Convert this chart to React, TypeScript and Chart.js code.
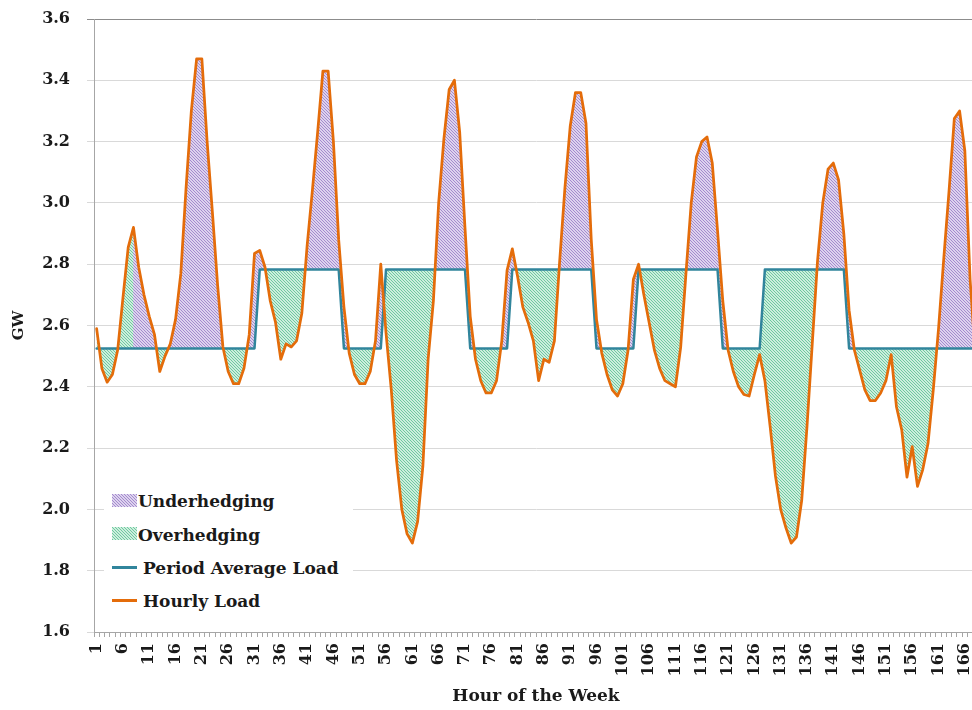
import React, { useEffect, useMemo, useRef } from 'react';
import { Chart, registerables } from 'chart.js';

Chart.register(...registerables);

// ---- data -------------------------------------------------------------
const hourLabels: string[] = Array.from({ length: 168 }, (_, i) => String(i + 1));

const day1 = [2.59, 2.46, 2.415, 2.44, 2.52, 2.69, 2.855, 2.92, 2.79, 2.7, 2.63, 2.57, 2.45, 2.5, 2.54, 2.62, 2.77, 3.05, 3.3, 3.47, 3.47, 3.2, 2.97, 2.73];
const day2 = [2.53, 2.45, 2.41, 2.41, 2.46, 2.57, 2.835, 2.845, 2.79, 2.68, 2.61, 2.49, 2.54, 2.53, 2.55, 2.64, 2.86, 3.04, 3.23, 3.43, 3.43, 3.2, 2.88, 2.66];
const day3 = [2.51, 2.44, 2.41, 2.41, 2.45, 2.55, 2.8, 2.575, 2.39, 2.16, 2.0, 1.92, 1.89, 1.96, 2.14, 2.49, 2.68, 3.0, 3.21, 3.37, 3.4, 3.23, 2.92, 2.63];
const day4 = [2.49, 2.42, 2.38, 2.38, 2.42, 2.55, 2.78, 2.85, 2.76, 2.66, 2.61, 2.55, 2.42, 2.49, 2.48, 2.55, 2.81, 3.05, 3.25, 3.36, 3.36, 3.26, 2.88, 2.62];
const day5 = [2.51, 2.44, 2.39, 2.37, 2.41, 2.52, 2.75, 2.8, 2.7, 2.61, 2.52, 2.46, 2.42, 2.41, 2.4, 2.53, 2.77, 3.0, 3.15, 3.2, 3.215, 3.13, 2.91, 2.68];
const day6 = [2.52, 2.45, 2.4, 2.375, 2.37, 2.44, 2.505, 2.42, 2.27, 2.11, 2.0, 1.94, 1.89, 1.91, 2.03, 2.27, 2.54, 2.81, 3.0, 3.11, 3.13, 3.075, 2.9, 2.65];
const day7 = [2.52, 2.455, 2.39, 2.355, 2.355, 2.38, 2.42, 2.505, 2.335, 2.26, 2.105, 2.205, 2.075, 2.13, 2.215, 2.39, 2.59, 2.82, 3.04, 3.275, 3.3, 3.17, 2.75, 2.5];

const hourlyLoad: number[] = [...day1, ...day2, ...day3, ...day4, ...day5, ...day6, ...day7];

// period average load: first hour of each period and its average
const periodStartHours = [1, 32, 48, 56, 72, 80, 96, 104, 120, 128, 144];
const periodAverages = [2.525, 2.783, 2.525, 2.783, 2.525, 2.783, 2.525, 2.783, 2.525, 2.783, 2.525];

// hours at the start of the week whose area is shaded as overhedging
const overhedgeLeadHours = 8;

const yTicks = [1.6, 1.8, 2.0, 2.2, 2.4, 2.6, 2.8, 3.0, 3.2, 3.4, 3.6];

// ---- styles -----------------------------------------------------------
const ORANGE = '#e46c0a';
const TEAL = '#31859c';
const TEXT = '#1a1a1a';
const FONT = '"DejaVu Serif", "Liberation Serif", serif';

function makeTile(base: string, line: string): HTMLCanvasElement {
  const n = 3;
  const c = document.createElement('canvas');
  c.width = n;
  c.height = n;
  const g = c.getContext('2d')!;
  g.fillStyle = base;
  g.fillRect(0, 0, n, n);
  g.fillStyle = line;
  for (let i = 0; i < n; i++) g.fillRect(i, i, 1, 1);
  return c;
}

export default function App() {
  const canvasRef = useRef<HTMLCanvasElement | null>(null);

  const tiles = useMemo(() => {
    const purple = makeTile('#ddd3ee', '#a48bce');
    const green = makeTile('#cdeedd', '#6fc9a0');
    return { purple, green, purpleUrl: purple.toDataURL(), greenUrl: green.toDataURL() };
  }, []);

  useEffect(() => {
    const canvas = canvasRef.current;
    if (!canvas) return;
    const ctx = canvas.getContext('2d')!;
    const purplePat = ctx.createPattern(tiles.purple, 'repeat')!;
    const greenPat = ctx.createPattern(tiles.green, 'repeat')!;

    const periodAverage = hourLabels.map((_, i) => {
      const h = i + 1;
      let k = 0;
      for (let j = 0; j < periodStartHours.length; j++) if (periodStartHours[j] <= h) k = j;
      return periodAverages[k];
    });
    const leadData = hourlyLoad.map((v, i) => (i < overhedgeLeadHours ? v : null));

    const tickFont = { family: FONT, size: 16, weight: 'bold' as const };

    const chart = new Chart(canvas, {
      type: 'line',
      data: {
        labels: hourLabels,
        datasets: [
          {
            label: 'Hourly Load',
            data: hourlyLoad,
            borderColor: ORANGE,
            borderWidth: 2.75,
            pointRadius: 0,
            fill: false,
            order: 0,
          },
          {
            label: 'Period Average Load',
            data: periodAverage,
            borderColor: TEAL,
            borderWidth: 2.5,
            pointRadius: 0,
            fill: false,
            order: 1,
          },
          {
            label: 'Hedging gap',
            data: hourlyLoad,
            borderColor: 'rgba(0,0,0,0)',
            borderWidth: 1,
            pointRadius: 0,
            fill: { target: 1, above: purplePat, below: greenPat },
            order: 3,
          },
          {
            label: 'Overhedging lead',
            data: leadData,
            borderColor: 'rgba(0,0,0,0)',
            borderWidth: 1,
            pointRadius: 0,
            fill: { target: 1, above: greenPat, below: greenPat },
            order: 2,
          },
        ],
      },
      options: {
        responsive: false,
        animation: false,
        devicePixelRatio: 1,
        layout: { padding: { left: 0, top: 19, right: 12, bottom: 0 } },
        plugins: { legend: { display: false }, tooltip: { enabled: false } },
        elements: { line: { tension: 0, borderJoinStyle: 'round', borderCapStyle: 'round' }, point: { radius: 0 } },
        scales: {
          x: {
            type: 'category',
            offset: true,
            grid: { offset: true, drawOnChartArea: false, drawTicks: true, tickLength: 5, color: '#a6a6a6' },
            border: { display: true, color: '#a6a6a6', width: 1 },
            ticks: {
              autoSkip: false,
              minRotation: 90,
              maxRotation: 90,
              padding: 6,
              font: tickFont,
              color: TEXT,
              callback: (_v: any, idx: number) => (idx % 5 === 0 ? hourLabels[idx] : ''),
            },
            title: {
              display: true,
              text: 'Hour of the Week',
              font: { family: FONT, size: 17, weight: 'bold' },
              color: TEXT,
              padding: { top: 0, bottom: 3 },
            },
            afterFit: (s: any) => {
              s.height = 78;
              s.paddingLeft = 0;
              s.paddingRight = 0;
            },
          },
          y: {
            min: yTicks[0],
            max: yTicks[yTicks.length - 1],
            afterBuildTicks: (s: any) => {
              s.ticks = yTicks.map((v) => ({ value: v }));
            },
            ticks: {
              font: tickFont,
              color: TEXT,
              padding: 17,
              callback: (v: any) => Number(v).toFixed(1),
            },
            grid: {
              color: (c: any) => (c.tick && c.tick.value >= 3.59 ? '#8c8c8c' : '#d9d9d9'),
              tickLength: 7,
              drawTicks: true,
            },
            border: { display: true, color: '#a6a6a6', width: 1 },
            title: {
              display: true,
              text: 'GW',
              font: { family: FONT, size: 15, weight: 'bold' },
              color: TEXT,
              padding: { top: 10, bottom: 0 },
            },
            afterFit: (s: any) => {
              s.width = 94;
              s.paddingTop = 0;
              s.paddingBottom = 0;
            },
          },
        },
      },
    } as any);

    return () => chart.destroy();
  }, [tiles]);

  const textStyle: React.CSSProperties = {
    position: 'absolute',
    fontFamily: FONT,
    fontWeight: 'bold',
    fontSize: 17,
    lineHeight: '20px',
    color: TEXT,
    whiteSpace: 'nowrap',
  };

  return (
    <div
      style={{
        position: 'fixed',
        left: 0,
        top: 0,
        width: 972,
        height: 710,
        overflow: 'hidden',
        background: '#ffffff',
      }}
    >
      <canvas ref={canvasRef} width={990} height={710} style={{ display: 'block' }} />
      <div
        style={{ position: 'absolute', left: 104, top: 480, width: 249, height: 138, background: '#ffffff' }}
      />
      <div
        style={{
          position: 'absolute',
          left: 112,
          top: 494,
          width: 25,
          height: 13,
          backgroundImage: `url(${tiles.purpleUrl})`,
        }}
      />
      <div style={{ ...textStyle, left: 138, top: 491 }}>Underhedging</div>
      <div
        style={{
          position: 'absolute',
          left: 112,
          top: 527,
          width: 25,
          height: 13,
          backgroundImage: `url(${tiles.greenUrl})`,
        }}
      />
      <div style={{ ...textStyle, left: 138, top: 525 }}>Overhedging</div>
      <div style={{ position: 'absolute', left: 112, top: 566, width: 25, height: 3, background: TEAL }} />
      <div style={{ ...textStyle, left: 143, top: 558 }}>Period Average Load</div>
      <div style={{ position: 'absolute', left: 112, top: 599, width: 25, height: 3, background: ORANGE }} />
      <div style={{ ...textStyle, left: 143, top: 591 }}>Hourly Load</div>
    </div>
  );
}
